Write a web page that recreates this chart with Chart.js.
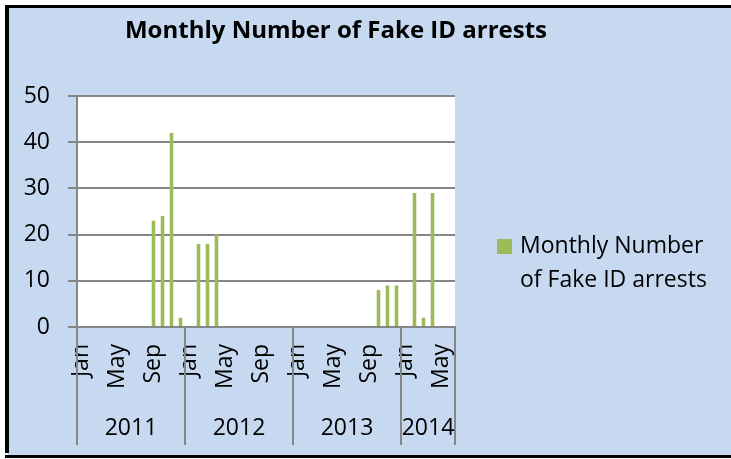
<!DOCTYPE html>
<html>
<head>
<meta charset="utf-8">
<title>Monthly Number of Fake ID arrests</title>
<script src="https://cdn.jsdelivr.net/npm/chart.js@4"></script>
<style>
  html, body { margin: 0; padding: 0; background: #fff; }
  #wrap { width: 731px; height: 459px; }
</style>
</head>
<body>
<div id="wrap"><canvas id="arrestChart" width="731" height="459"></canvas></div>
<script>
const TITLE = 'Monthly Number of Fake ID arrests';
const SERIES_LABEL = 'Monthly Number of Fake ID arrests';
const LEGEND_LINES = ['Monthly Number', 'of Fake ID arrests'];

const years = ['2011', '2012', '2013', '2014'];
const monthsPerYear = [12, 12, 12, 6];
const monthNames = ['Jan', 'Feb', 'Mar', 'Apr', 'May', 'Jun', 'Jul', 'Aug', 'Sep', 'Oct', 'Nov', 'Dec'];
const shownMonths = ['Jan', 'May', 'Sep'];
const yTicks = [0, 10, 20, 30, 40, 50];

// arrests per month
const arrests2011 = [0, 0, 0, 0, 0, 0, 0, 0, 23, 24, 42, 2];
const arrests2012 = [0, 18, 18, 20, 0, 0, 0, 0, 0, 0, 0, 0];
const arrests2013 = [0, 0, 0, 0, 0, 0, 0, 0, 0, 8, 9, 9];
const arrests2014 = [0, 29, 2, 29, 0, 0];

const categories = [];
years.forEach((y, i) => {
  for (let m = 0; m < monthsPerYear[i]; m++) categories.push(monthNames[m]);
});
const arrests = [...arrests2011, ...arrests2012, ...arrests2013, ...arrests2014];

const FONT = 'Open Sans';
const AXIS_GREY = '#868686';
const BAR_GREEN = '#9BBB59';
const PANEL_BLUE = '#C6D9F1';

// Excel-like frame, white plot area, title, legend, year groups
const excelLook = {
  id: 'excelLook',
  beforeDraw(chart) {
    const { ctx, chartArea: a } = chart;
    ctx.save();
    ctx.fillStyle = PANEL_BLUE;
    ctx.fillRect(8, 8, 731 - 8, 455 - 8);
    ctx.fillStyle = '#000';
    ctx.fillRect(5, 5, 731 - 5, 3);
    ctx.fillRect(5, 5, 4, 453 - 5);
    ctx.fillRect(5, 455, 731 - 5, 3);
    ctx.fillStyle = '#fff';
    ctx.fillRect(a.left, a.top, a.right - a.left, a.bottom - a.top);
    ctx.restore();
  },
  afterDraw(chart) {
    const { ctx, chartArea: a } = chart;
    const x = chart.scales.x;
    ctx.save();

    // year separators + year labels
    ctx.strokeStyle = AXIS_GREY;
    ctx.lineWidth = 2;
    ctx.fillStyle = '#000';
    ctx.font = '23px ' + FONT;
    ctx.textAlign = 'center';
    ctx.textBaseline = 'alphabetic';
    let start = 0;
    years.forEach((y, i) => {
      const end = start + monthsPerYear[i];
      const x0 = x.getPixelForValue(start - 0.5);
      const x1 = x.getPixelForValue(end - 0.5);
      [x0, x1].forEach(px => {
        ctx.beginPath();
        ctx.moveTo(Math.round(px), a.bottom);
        ctx.lineTo(Math.round(px), 445);
        ctx.stroke();
      });
      ctx.fillText(y, (x0 + x1) / 2, 435);
      start = end;
    });

    // title
    ctx.font = 'bold 24px ' + FONT;
    ctx.fillText(TITLE, 336, 38);

    // legend
    const ds = chart.data.datasets[0];
    ctx.fillStyle = ds.backgroundColor;
    ctx.fillRect(497, 239, 15, 15);
    ctx.fillStyle = '#000';
    ctx.font = '23px ' + FONT;
    ctx.textAlign = 'left';
    LEGEND_LINES.forEach((line, i) => ctx.fillText(line, 520, 253 + i * 33.5));
    ctx.restore();
  }
};

new Chart(document.getElementById('arrestChart'), {
  type: 'bar',
  data: {
    labels: categories,
    datasets: [{
      label: SERIES_LABEL,
      data: arrests,
      backgroundColor: BAR_GREEN,
      borderWidth: 0,
      barPercentage: 0.4,
      categoryPercentage: 1
    }]
  },
  options: {
    responsive: false,
    animation: false,
    events: [],
    layout: { padding: { top: 96, left: 0, right: 276, bottom: 4 } },
    plugins: {
      legend: { display: false },
      title: { display: false },
      tooltip: { enabled: false }
    },
    scales: {
      x: {
        afterFit: s => { s.height = 128; },
        grid: { display: false, drawTicks: false },
        border: { display: true, color: AXIS_GREY, width: 2 },
        ticks: {
          autoSkip: false,
          minRotation: 90,
          maxRotation: 90,
          padding: 17,
          color: '#000',
          font: { family: FONT, size: 23 },
          callback: (v, i) => shownMonths.includes(categories[i]) ? categories[i] : ''
        }
      },
      y: {
        min: 0,
        max: 50,
        afterFit: s => { s.width = 77; },
        afterBuildTicks: s => { s.ticks = yTicks.map(v => ({ value: v })); },
        grid: { color: AXIS_GREY, lineWidth: 2, tickLength: 9 },
        border: { display: true, color: AXIS_GREY, width: 2 },
        ticks: {
          padding: 18,
          color: '#000',
          font: { family: FONT, size: 23 }
        }
      }
    }
  },
  plugins: [excelLook]
});
</script>
</body>
</html>
